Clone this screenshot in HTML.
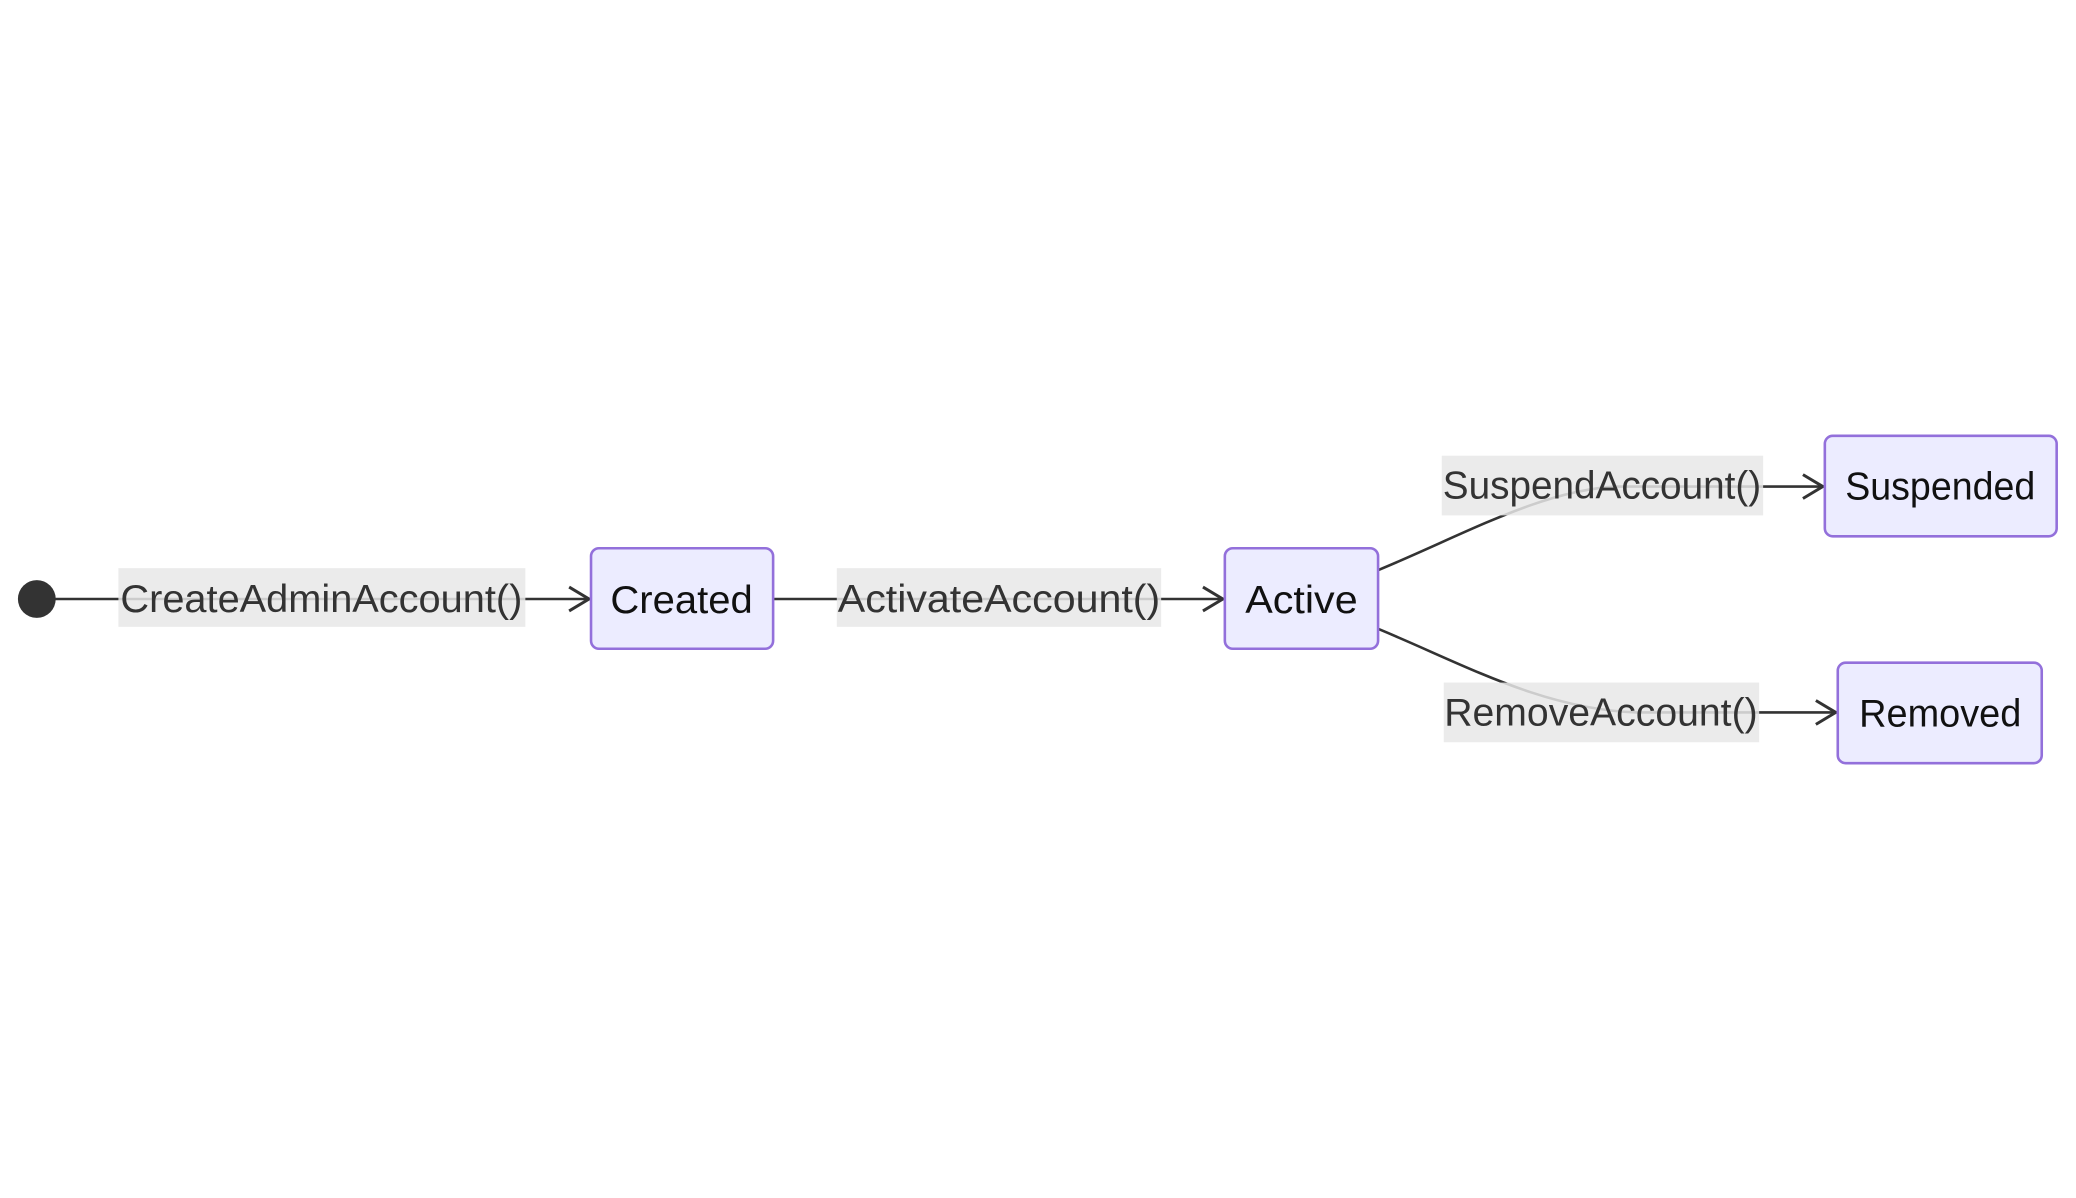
<!DOCTYPE html>
<html><head><meta charset="utf-8"><style>
html,body{margin:0;padding:0;background:#fff;}
svg{display:block;}
text{font-family:"Liberation Sans",sans-serif;}
</style></head><body>
<svg width="2076" height="1198" viewBox="0 0 2076 1198" xmlns="http://www.w3.org/2000/svg">
<g transform="scale(0.995)">
<g fill="none" stroke="#333" stroke-width="2.6">
<line x1="37" y1="602" x2="590" y2="602"/>
<line x1="777" y1="602" x2="1227" y2="602"/>
<path d="M1385,573 C1470,538 1550,492 1625,489 L1830,489"/>
<path d="M1385,632 C1470,667 1550,713 1645,716 L1843,716"/>
</g>
<g fill="none" stroke="#333" stroke-width="3">
<path d="M572,590 L592,602 L572,614"/>
<path d="M1209,590 L1229,602 L1209,614"/>
<path d="M1812,477 L1832,489 L1812,501"/>
<path d="M1825,704 L1845,716 L1825,728"/>
</g>
<circle cx="37" cy="602" r="19" fill="#333"/>
<g fill="rgba(232,232,232,0.85)">
<rect x="119" y="571" width="409" height="59"/>
<rect x="841" y="571" width="326" height="59"/>
<rect x="1449" y="458" width="323" height="60"/>
<rect x="1451" y="686" width="317" height="60"/>
</g>
<g fill="#333" font-size="39" text-anchor="middle">
<text x="323" y="615" textLength="404" lengthAdjust="spacingAndGlyphs">CreateAdminAccount()</text>
<text x="1004" y="615" textLength="324" lengthAdjust="spacingAndGlyphs">ActivateAccount()</text>
<text x="1610" y="501" textLength="320" lengthAdjust="spacingAndGlyphs">SuspendAccount()</text>
<text x="1609" y="729" textLength="315" lengthAdjust="spacingAndGlyphs">RemoveAccount()</text>
</g>
<g fill="#ECECFF" stroke="#9370DB" stroke-width="2.6">
<rect x="594" y="551" width="183" height="101" rx="8"/>
<rect x="1231" y="551" width="154" height="101" rx="8"/>
<rect x="1834" y="438" width="233" height="101" rx="8"/>
<rect x="1847" y="666" width="205" height="101" rx="8"/>
</g>
<g fill="#111" font-size="39" text-anchor="middle">
<text x="685" y="616" textLength="143" lengthAdjust="spacingAndGlyphs">Created</text>
<text x="1308" y="616" textLength="113" lengthAdjust="spacingAndGlyphs">Active</text>
<text x="1950" y="502" textLength="191" lengthAdjust="spacingAndGlyphs">Suspended</text>
<text x="1950" y="730" textLength="163" lengthAdjust="spacingAndGlyphs">Removed</text>
</g>
</g>
</svg>
</body></html>
